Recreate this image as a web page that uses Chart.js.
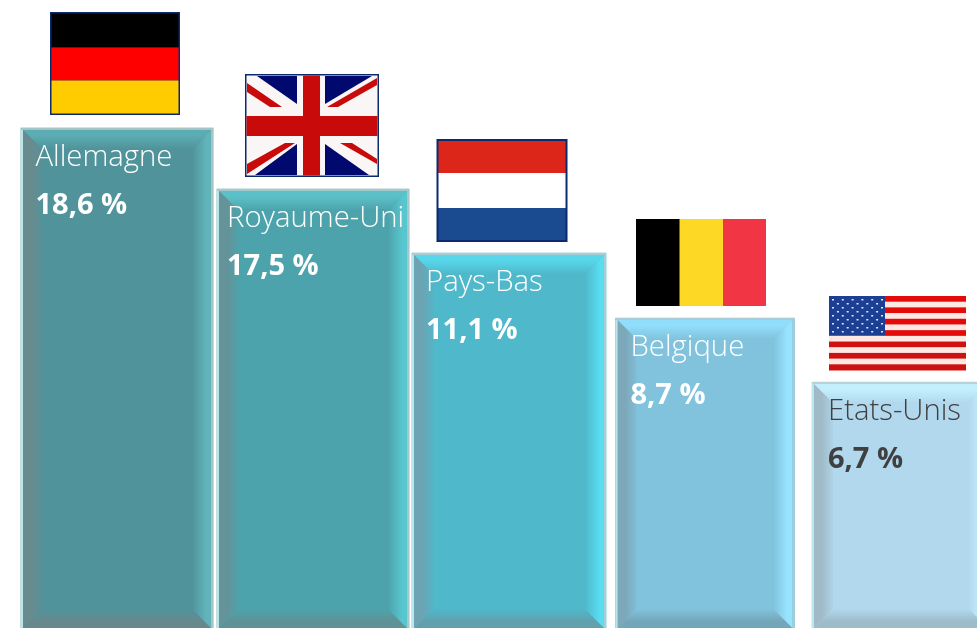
<!DOCTYPE html>
<html lang="fr">
<head>
<meta charset="utf-8">
<title>Principaux pays</title>
<script src="https://cdn.jsdelivr.net/npm/chart.js@4/dist/chart.umd.min.js"></script>
<style>
    html, body { margin: 0; padding: 0; background: #fff; width: 977px; height: 628px; overflow: hidden; }
    canvas { display: block; }
</style>
</head>
<body>
<canvas id="chart" width="1000" height="628"></canvas>
<script>
const categories = ['Allemagne', 'Royaume-Uni', 'Pays-Bas', 'Belgique', 'Etats-Unis'];
// the steps in the picture are not proportional to the shares, so both are kept
const barHeights = [500, 439, 375, 310, 246];
const shareLabels = ['18,6 %', '17,5 %', '11,1 %', '8,7 %', '6,7 %'];

const barWidths = [192, 192, 194, 179, 178];
const fillColors = ['#50939a', '#4da3ab', '#4fb8ca', '#81c3dc', '#b2d8ee'];
const topColors = ['#5cacb3', '#5cc0c8', '#58d6ea', '#90defc', '#c3effd'];
const rightColors = ['#62b4bb', '#58c6ce', '#58dcf0', '#98e4ff', '#c6f4ff'];
const leftColors = ['#6a8b8e', '#64939a', '#6ca4b3', '#7ca8b9', '#a0bbc7'];
const bottomColors = ['#67898d', '#5f9297', '#62a0ae', '#74a6ba', '#9dbcc9'];
const edgeColors = ['#a6c4c6', '#a6c8ca', '#a8ccd2', '#a8ccd6', '#b8d2da'];
const textColors = ['#ffffff', '#ffffff', '#ffffff', '#ffffff', '#404040'];
const textOffsets = [14.5, 10, 14, 15, 16];

const BEVEL = 19;

function face(ctx, pts, x0, y0, x1, y1, stops) {
    const g = ctx.createLinearGradient(x0, y0, x1, y1);
    stops.forEach(s => g.addColorStop(s[0], s[1]));
    ctx.fillStyle = g;
    ctx.beginPath();
    pts.forEach((p, i) => i ? ctx.lineTo(p[0], p[1]) : ctx.moveTo(p[0], p[1]));
    ctx.closePath();
    ctx.fill();
}

function drawBevel(ctx, i, el) {
    const l = el.x - el.width / 2, r = el.x + el.width / 2, t = el.y, b = el.base;
    const fill = fillColors[i];
    const x0 = l + 2, x1 = r - 2, y0 = t + 2, y1 = b;

    face(ctx, [[x0, y0], [x1, y0], [x1 - BEVEL, y0 + BEVEL], [x0 + BEVEL, y0 + BEVEL]], 0, y0, 0, y0 + BEVEL,
        [[0, topColors[i]], [0.3, topColors[i]], [1, fill]]);
    face(ctx, [[x0, y1], [x1, y1], [x1 - BEVEL, y1 - BEVEL], [x0 + BEVEL, y1 - BEVEL]], 0, y1, 0, y1 - BEVEL,
        [[0, bottomColors[i]], [0.35, bottomColors[i]], [1, fill]]);
    face(ctx, [[x0, y0], [x0 + BEVEL, y0 + BEVEL], [x0 + BEVEL, y1 - BEVEL], [x0, y1]], x0, 0, x0 + BEVEL + 3, 0,
        [[0, leftColors[i]], [0.35, leftColors[i]], [1, fill]]);
    face(ctx, [[x1, y0], [x1 - BEVEL, y0 + BEVEL], [x1 - BEVEL, y1 - BEVEL], [x1, y1]], x1, 0, x1 - BEVEL, 0,
        [[0, rightColors[i]], [0.25, rightColors[i]], [1, fill]]);

    // thin rim: grey on top and right, pale on the left
    ctx.fillStyle = edgeColors[i];
    ctx.fillRect(l, t, r - l, 2);
    ctx.fillRect(r - 2, t, 2, b - t);
    ctx.fillStyle = '#b8e6ea';
    ctx.fillRect(l, t + 2, 2, b - t - 2);
}

function rect(ctx, x, y, w, h, color) {
    ctx.fillStyle = color;
    ctx.fillRect(x, y, w, h);
}

function poly(ctx, x, y, pts, color) {
    ctx.fillStyle = color;
    ctx.beginPath();
    pts.forEach((p, i) => i ? ctx.lineTo(x + p[0], y + p[1]) : ctx.moveTo(x + p[0], y + p[1]));
    ctx.closePath();
    ctx.fill();
}

function flagGermany(ctx, x, y) {
    rect(ctx, x, y, 130, 103, '#0b2a6e');
    rect(ctx, x + 1.5, y + 1.5, 127, 34, '#000000');
    rect(ctx, x + 1.5, y + 35.5, 127, 33, '#ff0000');
    rect(ctx, x + 1.5, y + 68.5, 127, 33, '#ffcc00');
}

function flagUk(ctx, x, y) {
    const w = 134, h = 103, blue = '#000a6e', red = '#c80a0a';
    rect(ctx, x, y, w, h, '#0b2a6e');
    rect(ctx, x + 1.5, y + 1.5, w - 3, h - 3, '#fbf6f6');
    poly(ctx, x, y, [[12, 2], [52, 2], [52, 30]], blue);
    poly(ctx, x, y, [[80, 2], [127, 2], [80, 30]], blue);
    poly(ctx, x, y, [[10, 101], [52, 101], [52, 70]], blue);
    poly(ctx, x, y, [[80, 70], [124, 101], [80, 101]], blue);
    poly(ctx, x, y, [[2, 9], [37, 33], [25, 33], [2, 18]], red);
    poly(ctx, x, y, [[132, 4], [82, 33], [93, 33], [132, 11]], red);
    poly(ctx, x, y, [[2, 100], [50, 69], [40, 69], [2, 90]], red);
    poly(ctx, x, y, [[95, 69], [107, 69], [132, 85], [132, 90]], red);
    rect(ctx, x + 58, y + 1.5, 17, h - 3, red);
    rect(ctx, x + 1.5, y + 42, w - 3, 20, red);
}

function flagNetherlands(ctx, x, y) {
    rect(ctx, x, y, 131, 103, '#0b2a6e');
    rect(ctx, x + 2, y + 2, 127, 32, '#dc2619');
    rect(ctx, x + 2, y + 34, 127, 35, '#ffffff');
    rect(ctx, x + 2, y + 69, 127, 32, '#1a4b91');
}

function flagBelgium(ctx, x, y) {
    rect(ctx, x, y, 44, 87, '#000000');
    rect(ctx, x + 43.5, y, 44, 87, '#fdd825');
    rect(ctx, x + 87, y, 43, 87, '#f23545');
}

function flagUsa(ctx, x, y) {
    const w = 137, h = 74, n = 13;
    for (let s = 0; s < n; s++) {
        rect(ctx, x, y + s * h / n, w, h / n + 0.5, s % 2 ? '#fde8e4' : (s < 7 ? '#e40a0a' : '#cf1010'));
    }
    rect(ctx, x, y, 56, 39, '#1c3f94');
    ctx.fillStyle = '#dfe8f6';
    for (let r = 0; r < 9; r++) {
        for (let c = r % 2 ? 1 : 0; c < 11; c += 2) {
            ctx.fillRect(x + 3 + c * 4.9, y + 3 + r * 4, 2, 1.5);
        }
    }
}

const flagDrawers = [flagGermany, flagUk, flagNetherlands, flagBelgium, flagUsa];
// flag corner relative to the left and top of its bar
const flagOffsets = [[29, -116], [28, -115], [24.5, -114], [20.5, -99], [17, -86]];

const stepBars = {
    id: 'stepBars',
    afterDatasetsDraw(chart) {
        const ctx = chart.ctx;
        chart.data.datasets.forEach((ds, i) => {
            const el = chart.getDatasetMeta(i).data[i];
            const left = el.x - el.width / 2;
            ctx.save();
            drawBevel(ctx, i, el);
            flagDrawers[i](ctx, left + flagOffsets[i][0], el.y + flagOffsets[i][1]);
            ctx.fillStyle = textColors[i];
            ctx.textBaseline = 'alphabetic';
            ctx.textAlign = 'left';
            ctx.font = '300 29.3px "Open Sans"';
            ctx.fillText(categories[i], left + textOffsets[i], el.y + 37.5);
            ctx.font = '700 29px "Open Sans"';
            ctx.fillText(shareLabels[i], left + textOffsets[i], el.y + 86);
            ctx.restore();
        });
    }
};

new Chart(document.getElementById('chart'), {
    type: 'bar',
    data: {
        labels: categories,
        datasets: barHeights.map((h, i) => ({
            label: categories[i],
            data: barHeights.map((v, j) => (j === i ? v : null)),
            backgroundColor: fillColors[i],
            borderWidth: 0,
            barThickness: barWidths[i],
            grouped: false
        }))
    },
    options: {
        responsive: false,
        animation: false,
        layout: { padding: { left: 19, right: 1, top: 0, bottom: 0 } },
        plugins: { legend: { display: false }, tooltip: { enabled: false } },
        scales: {
            x: { display: false },
            y: { display: false, min: 0, max: 628 }
        }
    },
    plugins: [stepBars]
});
</script>
</body>
</html>
